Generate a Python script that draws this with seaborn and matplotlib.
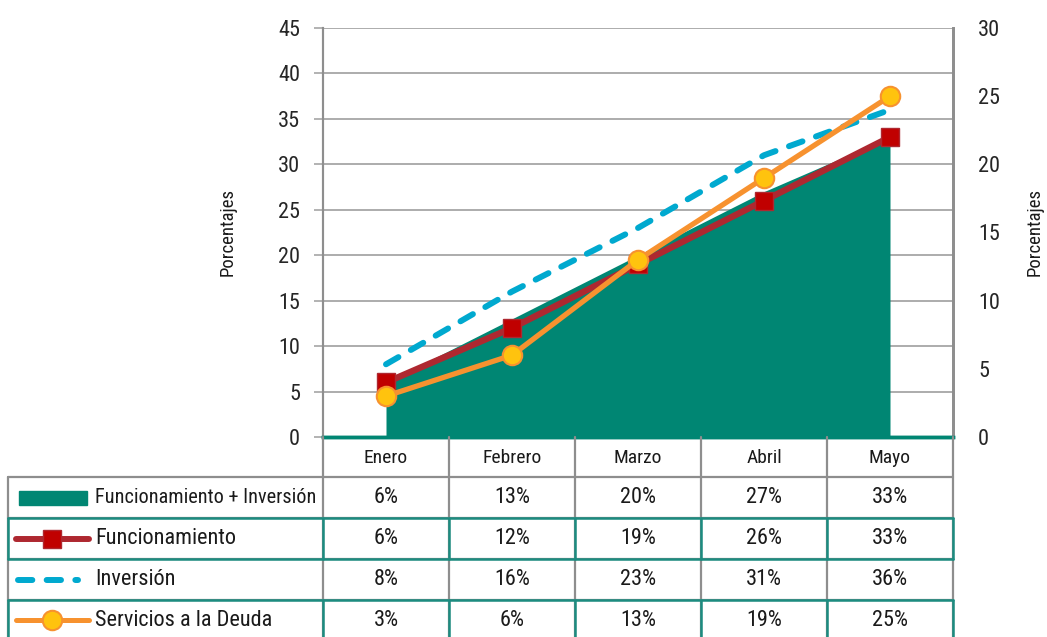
import matplotlib
matplotlib.use("Agg")
import matplotlib.pyplot as plt
import seaborn as sns
import pandas as pd
from matplotlib.lines import Line2D
from matplotlib.patches import Rectangle

# Monthly cumulative execution (%)
meses = ["Enero", "Febrero", "Marzo", "Abril", "Mayo"]
func_inv = [6, 13, 20, 27, 33]
funcionamiento = [6, 12, 19, 26, 33]
inversion = [8, 16, 23, 31, 36]
servicios_deuda = [3, 6, 13, 19, 25]
series_names = ["Funcionamiento + Inversión", "Funcionamiento",
                "Inversión", "Servicios a la Deuda"]

TEAL = "#008673"
TEAL_LINE = "#1C8C80"
RED = "#AE2830"
RED_FACE = "#C00000"
BLUE = "#00A9CF"
ORANGE = "#F7922F"
YELLOW = "#FFC30E"
GRID = "#A6A6A6"
BORDER = "#8E8E8E"

sns.set_style("white")
plt.rcParams["font.family"] = ["Roboto Condensed", "Open Sans Condensed",
                               "Liberation Sans Narrow", "DejaVu Sans"]
plt.rcParams["font.stretch"] = "condensed"
plt.rcParams["text.color"] = "#1a1a1a"

df = pd.DataFrame({
    "pos": range(len(meses)),
    "mes": meses,
    "func_inv": func_inv,
    "funcionamiento": funcionamiento,
    "inversion": inversion,
    "servicios": servicios_deuda,
})

W, H = 1047, 637
fig = plt.figure(figsize=(W / 100, H / 100), dpi=100)
ax = fig.add_axes([323 / W, 1 - 437 / H, (953 - 323) / W, (437 - 28) / H])
ax2 = ax.twinx()

ax.set_xlim(-0.5, len(meses) - 0.5)
ax.set_ylim(0, 45)
ax.set_yticks(range(0, 46, 5))
ax2.set_ylim(0, 30)
ax2.set_yticks(range(0, 31, 5))

ax.yaxis.grid(True, color=GRID, lw=1.3)
ax.xaxis.grid(False)
ax2.grid(False)
ax.set_axisbelow(True)

# Area: total execution
ax.fill_between(df["pos"], df["func_inv"], color=TEAL, lw=0, zorder=2)

# Lines on the left axis
sns.lineplot(data=df, x="pos", y="inversion", ax=ax, color=BLUE, lw=4.3,
             linestyle=(0, (2.4, 2.4)), dash_capstyle="round", zorder=3)
sns.lineplot(data=df, x="pos", y="funcionamiento", ax=ax, color=RED, lw=4.6,
             marker="s", markersize=13, markerfacecolor=RED_FACE,
             markeredgecolor=RED, markeredgewidth=1, zorder=4)
# Debt service on the right axis
sns.lineplot(data=df, x="pos", y="servicios", ax=ax2, color=ORANGE, lw=3.8,
             marker="o", markersize=14, markerfacecolor=YELLOW,
             markeredgecolor=ORANGE, markeredgewidth=1.5, zorder=5)

for a in (ax, ax2):
    a.set_xticks([])
    a.set_xlabel("")
    a.set_ylabel("")
    a.spines["top"].set_visible(False)
    a.spines["left"].set_color(BORDER)
    a.spines["left"].set_linewidth(1.5)
    a.spines["right"].set_color(BORDER)
    a.spines["right"].set_linewidth(2)
    a.spines["bottom"].set_color(TEAL)
    a.spines["bottom"].set_linewidth(2.5)

ax.tick_params(axis="y", left=True, length=6.5, width=1.2, color=GRID,
               labelsize=16, pad=10)
ax2.tick_params(axis="y", right=False, length=0, labelsize=16, pad=18)

fig.text(228 / W, 1 - 232 / H, "Porcentajes", rotation=90,
         ha="center", va="center", fontsize=13.5)
fig.text(1035 / W, 1 - 232 / H, "Porcentajes", rotation=90,
         ha="center", va="center", fontsize=13.5)

# ---- data table below the plot ----
def fx(px):
    return px / W

def fy(py):
    return 1 - py / H

fig.canvas.draw()
renderer = fig.canvas.get_renderer()
col_edges = [ax.transData.transform((i - 0.5, 0))[0]
             for i in range(len(meses) + 1)]
col_edges = [W * fig.transFigure.inverted().transform((c, 0))[0] for c in col_edges]
left_edge = 8
row_edges = [437, 477, 518, 559, 600, 641]


def hline(y, x0, x1, color=BORDER, lw=1.6):
    fig.add_artist(Line2D([fx(x0), fx(x1)], [fy(y), fy(y)], color=color,
                          lw=lw, transform=fig.transFigure))


def vline(x, y0, y1, color=BORDER, lw=1.6):
    fig.add_artist(Line2D([fx(x), fx(x)], [fy(y0), fy(y1)], color=color,
                          lw=lw, transform=fig.transFigure))


# grid of the table
for y in row_edges[1:]:
    hline(y, left_edge, col_edges[-1])
for x in col_edges:
    vline(x, row_edges[0], row_edges[-1])
vline(left_edge, row_edges[1], row_edges[-1])

# teal outlines on alternate rows
for r in (2, 4):
    y0, y1 = row_edges[r], row_edges[r + 1]
    hline(y0, left_edge, col_edges[-1], color=TEAL_LINE, lw=1.8)
    hline(y1, left_edge, col_edges[-1], color=TEAL_LINE, lw=1.8)
    for x in [left_edge] + col_edges:
        vline(x, y0, y1, color=TEAL_LINE, lw=1.8)

# header with month names
for i, m in enumerate(meses):
    cx = (col_edges[i] + col_edges[i + 1]) / 2
    fig.text(fx(cx), fy((row_edges[0] + row_edges[1]) / 2 + 1), m,
             ha="center", va="center", fontsize=14)

table_rows = [func_inv, funcionamiento, inversion, servicios_deuda]
label_x = 95
max_label_w = col_edges[0] - label_x - 6
for r, (name, vals) in enumerate(zip(series_names, table_rows)):
    cy = (row_edges[r + 1] + row_edges[r + 2]) / 2
    if r == 3:
        cy = 620
    t = fig.text(fx(label_x), fy(cy), name, ha="left", va="center", fontsize=16)
    # shrink the series name if it does not fit its cell
    w = t.get_window_extent(renderer).width
    if w > max_label_w:
        t.set_fontsize(16 * max_label_w / w)
    for i, v in enumerate(vals):
        cx = (col_edges[i] + col_edges[i + 1]) / 2
        fig.text(fx(cx), fy(cy), f"{v}%", ha="center", va="center", fontsize=16)

# legend keys in the first column
cy = (row_edges[1] + row_edges[2]) / 2
fig.add_artist(Rectangle((fx(19), fy(cy + 7)), fx(87) - fx(19), fy(cy - 7) - fy(cy + 7),
                         color=TEAL, transform=fig.transFigure))
cy = (row_edges[2] + row_edges[3]) / 2
fig.add_artist(Line2D([fx(16), fx(89)], [fy(cy), fy(cy)], color=RED, lw=4.3,
                      solid_capstyle="round", transform=fig.transFigure))
fig.add_artist(Line2D([fx(52)], [fy(cy)], marker="s", markersize=13,
                      markerfacecolor=RED_FACE, markeredgecolor=RED,
                      markeredgewidth=1, transform=fig.transFigure))
cy = (row_edges[3] + row_edges[4]) / 2
fig.add_artist(Line2D([fx(18), fx(78)], [fy(cy), fy(cy)], color=BLUE, lw=4.3,
                      linestyle=(0, (2.4, 2.4)), dash_capstyle="round",
                      transform=fig.transFigure))
cy = 620
fig.add_artist(Line2D([fx(16), fx(89)], [fy(cy), fy(cy)], color=ORANGE, lw=3.6,
                      solid_capstyle="round", transform=fig.transFigure))
fig.add_artist(Line2D([fx(52)], [fy(cy)], marker="o", markersize=14,
                      markerfacecolor=YELLOW, markeredgecolor=ORANGE,
                      markeredgewidth=1.5, transform=fig.transFigure))

fig.savefig("out.png", dpi=100)
